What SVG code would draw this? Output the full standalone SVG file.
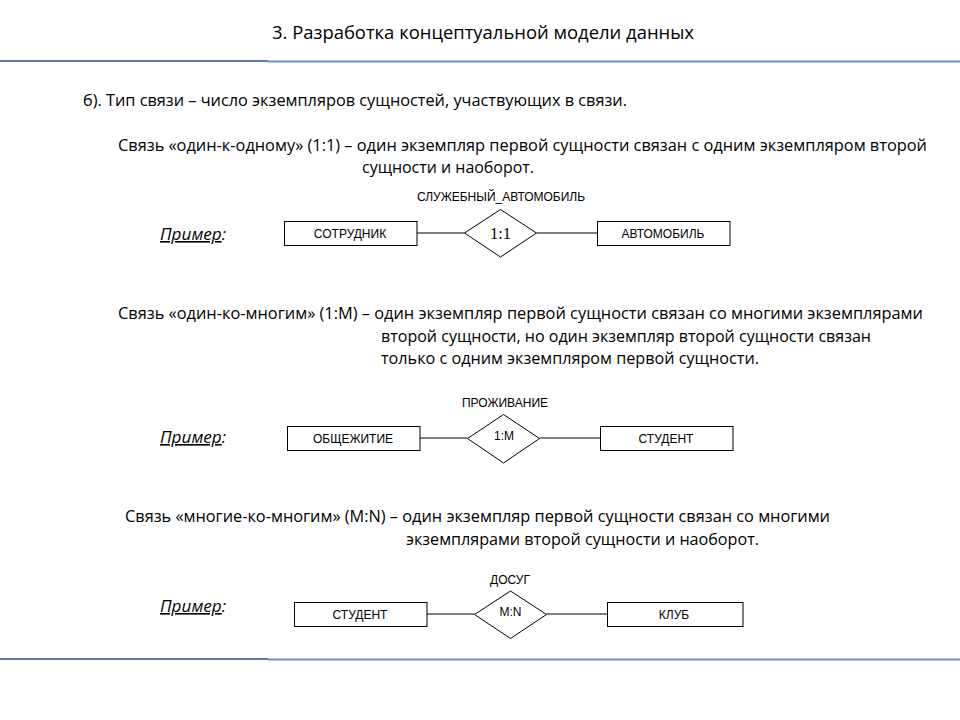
<svg xmlns="http://www.w3.org/2000/svg" width="960" height="720" viewBox="0 0 960 720">
<style>
.body{font-family:"Open Sans","Noto Sans","Liberation Sans",sans-serif;font-size:16px;fill:#000}
.title{font-family:"Open Sans","Noto Sans","Liberation Sans",sans-serif;font-size:19px;fill:#000}
.ex{font-family:"Open Sans","Noto Sans","Liberation Sans",sans-serif;font-size:16px;font-style:italic;fill:#000}
.lbl{font-family:"Liberation Sans",Arial,sans-serif;font-size:12px;fill:#000;text-anchor:middle}
.card{font-family:"Liberation Sans",Arial,sans-serif;font-size:12px;fill:#000;text-anchor:middle}
.card1{font-family:"Liberation Serif","Times New Roman",serif;font-size:16.5px;fill:#000;text-anchor:middle}
.ent{fill:#fff;stroke:#000;stroke-width:1}
.rel{fill:#fff;stroke:#000;stroke-width:1}
.conn line{stroke:#000;stroke-width:1}
</style>
<rect width="960" height="720" fill="#fff"/>
<text class="title" x="272" y="39" textLength="422" lengthAdjust="spacingAndGlyphs">3. Разработка концептуальной модели данных</text>
<line x1="0" y1="61" x2="268" y2="61" stroke="#5a7ea6" stroke-width="2"/>
<line x1="268" y1="61.5" x2="960" y2="61.5" stroke="#6890c4" stroke-width="2"/>
<line x1="0" y1="659" x2="268" y2="659" stroke="#5a7ea6" stroke-width="2"/>
<line x1="268" y1="659.5" x2="960" y2="659.5" stroke="#6890c4" stroke-width="2"/>

<text class="body" x="83" y="106" textLength="544" lengthAdjust="spacingAndGlyphs">б). Тип связи – число экземпляров сущностей, участвующих в связи.</text>
<text class="body" x="118" y="151" textLength="809" lengthAdjust="spacingAndGlyphs">Связь «один-к-одному» (1:1) – один экземпляр первой сущности связан с одним экземпляром второй</text>
<text class="body" x="362" y="173" textLength="172" lengthAdjust="spacingAndGlyphs">сущности и наоборот.</text>

<text class="body" x="118" y="319" textLength="805" lengthAdjust="spacingAndGlyphs">Связь «один-ко-многим» (1:М) – один экземпляр первой сущности связан со многими экземплярами</text>
<text class="body" x="381" y="342" textLength="490" lengthAdjust="spacingAndGlyphs">второй сущности, но один экземпляр второй сущности связан</text>
<text class="body" x="381" y="364" textLength="378" lengthAdjust="spacingAndGlyphs">только с одним экземпляром первой сущности.</text>

<text class="body" x="125" y="522" textLength="705" lengthAdjust="spacingAndGlyphs">Связь «многие-ко-многим» (M:N) – один экземпляр первой сущности связан со многими</text>
<text class="body" x="406" y="545" textLength="353" lengthAdjust="spacingAndGlyphs">экземплярами второй сущности и наоборот.</text>

<text class="ex" x="160" y="240" textLength="66" lengthAdjust="spacingAndGlyphs"><tspan text-decoration="underline">Пример</tspan>:</text>
<text class="ex" x="160" y="443" textLength="66" lengthAdjust="spacingAndGlyphs"><tspan text-decoration="underline">Пример</tspan>:</text>
<text class="ex" x="160" y="612" textLength="66" lengthAdjust="spacingAndGlyphs"><tspan text-decoration="underline">Пример</tspan>:</text>

<g class="conn" id="connectors">
<line x1="417" y1="233" x2="464.5" y2="233"/>
<line x1="536.5" y1="233" x2="597" y2="233"/>
<line x1="420" y1="438" x2="467.5" y2="438"/>
<line x1="539.5" y1="438" x2="600" y2="438"/>
<line x1="427" y1="614" x2="474.5" y2="614"/>
<line x1="546.5" y1="614" x2="607" y2="614"/>
</g>

<g id="e_sotrudnik"><rect class="ent" x="284.5" y="221.5" width="132.5" height="24"/><text class="card" x="350" y="237.5">СОТРУДНИК</text></g>
<g id="r_sluzh"><polygon class="rel" points="500.5,209.5 536.5,233 500.5,257 464.5,233"/><text class="card1" x="500.5" y="239">1:1</text><text class="lbl" x="501" y="201">СЛУЖЕБНЫЙ_АВТОМОБИЛЬ</text></g>
<g id="e_avto"><rect class="ent" x="597.5" y="221.5" width="132.5" height="24"/><text class="card" x="663" y="237.5">АВТОМОБИЛЬ</text></g>

<g id="e_obsh"><rect class="ent" x="287.5" y="426.5" width="132.5" height="24"/><text class="card" x="353" y="442.5">ОБЩЕЖИТИЕ</text></g>
<g id="r_prozh"><polygon class="rel" points="503.5,414.5 539.5,438.5 503.5,463 467.5,438.5"/><text class="card" x="504" y="440">1:M</text><text class="lbl" x="505" y="407">ПРОЖИВАНИЕ</text></g>
<g id="e_student1"><rect class="ent" x="600.5" y="426.5" width="132.5" height="24"/><text class="card" x="666" y="442.5">СТУДЕНТ</text></g>

<g id="e_student2"><rect class="ent" x="294.5" y="602.5" width="132.5" height="24"/><text class="card" x="360" y="618.5">СТУДЕНТ</text></g>
<g id="r_dosug"><polygon class="rel" points="510.5,591 546.5,614.5 510.5,638.5 474.5,614.5"/><text class="card" x="510.5" y="616">M:N</text><text class="lbl" x="510" y="584">ДОСУГ</text></g>
<g id="e_klub"><rect class="ent" x="607.5" y="602.5" width="135.5" height="24"/><text class="card" x="674" y="618.5">КЛУБ</text></g>
</svg>
